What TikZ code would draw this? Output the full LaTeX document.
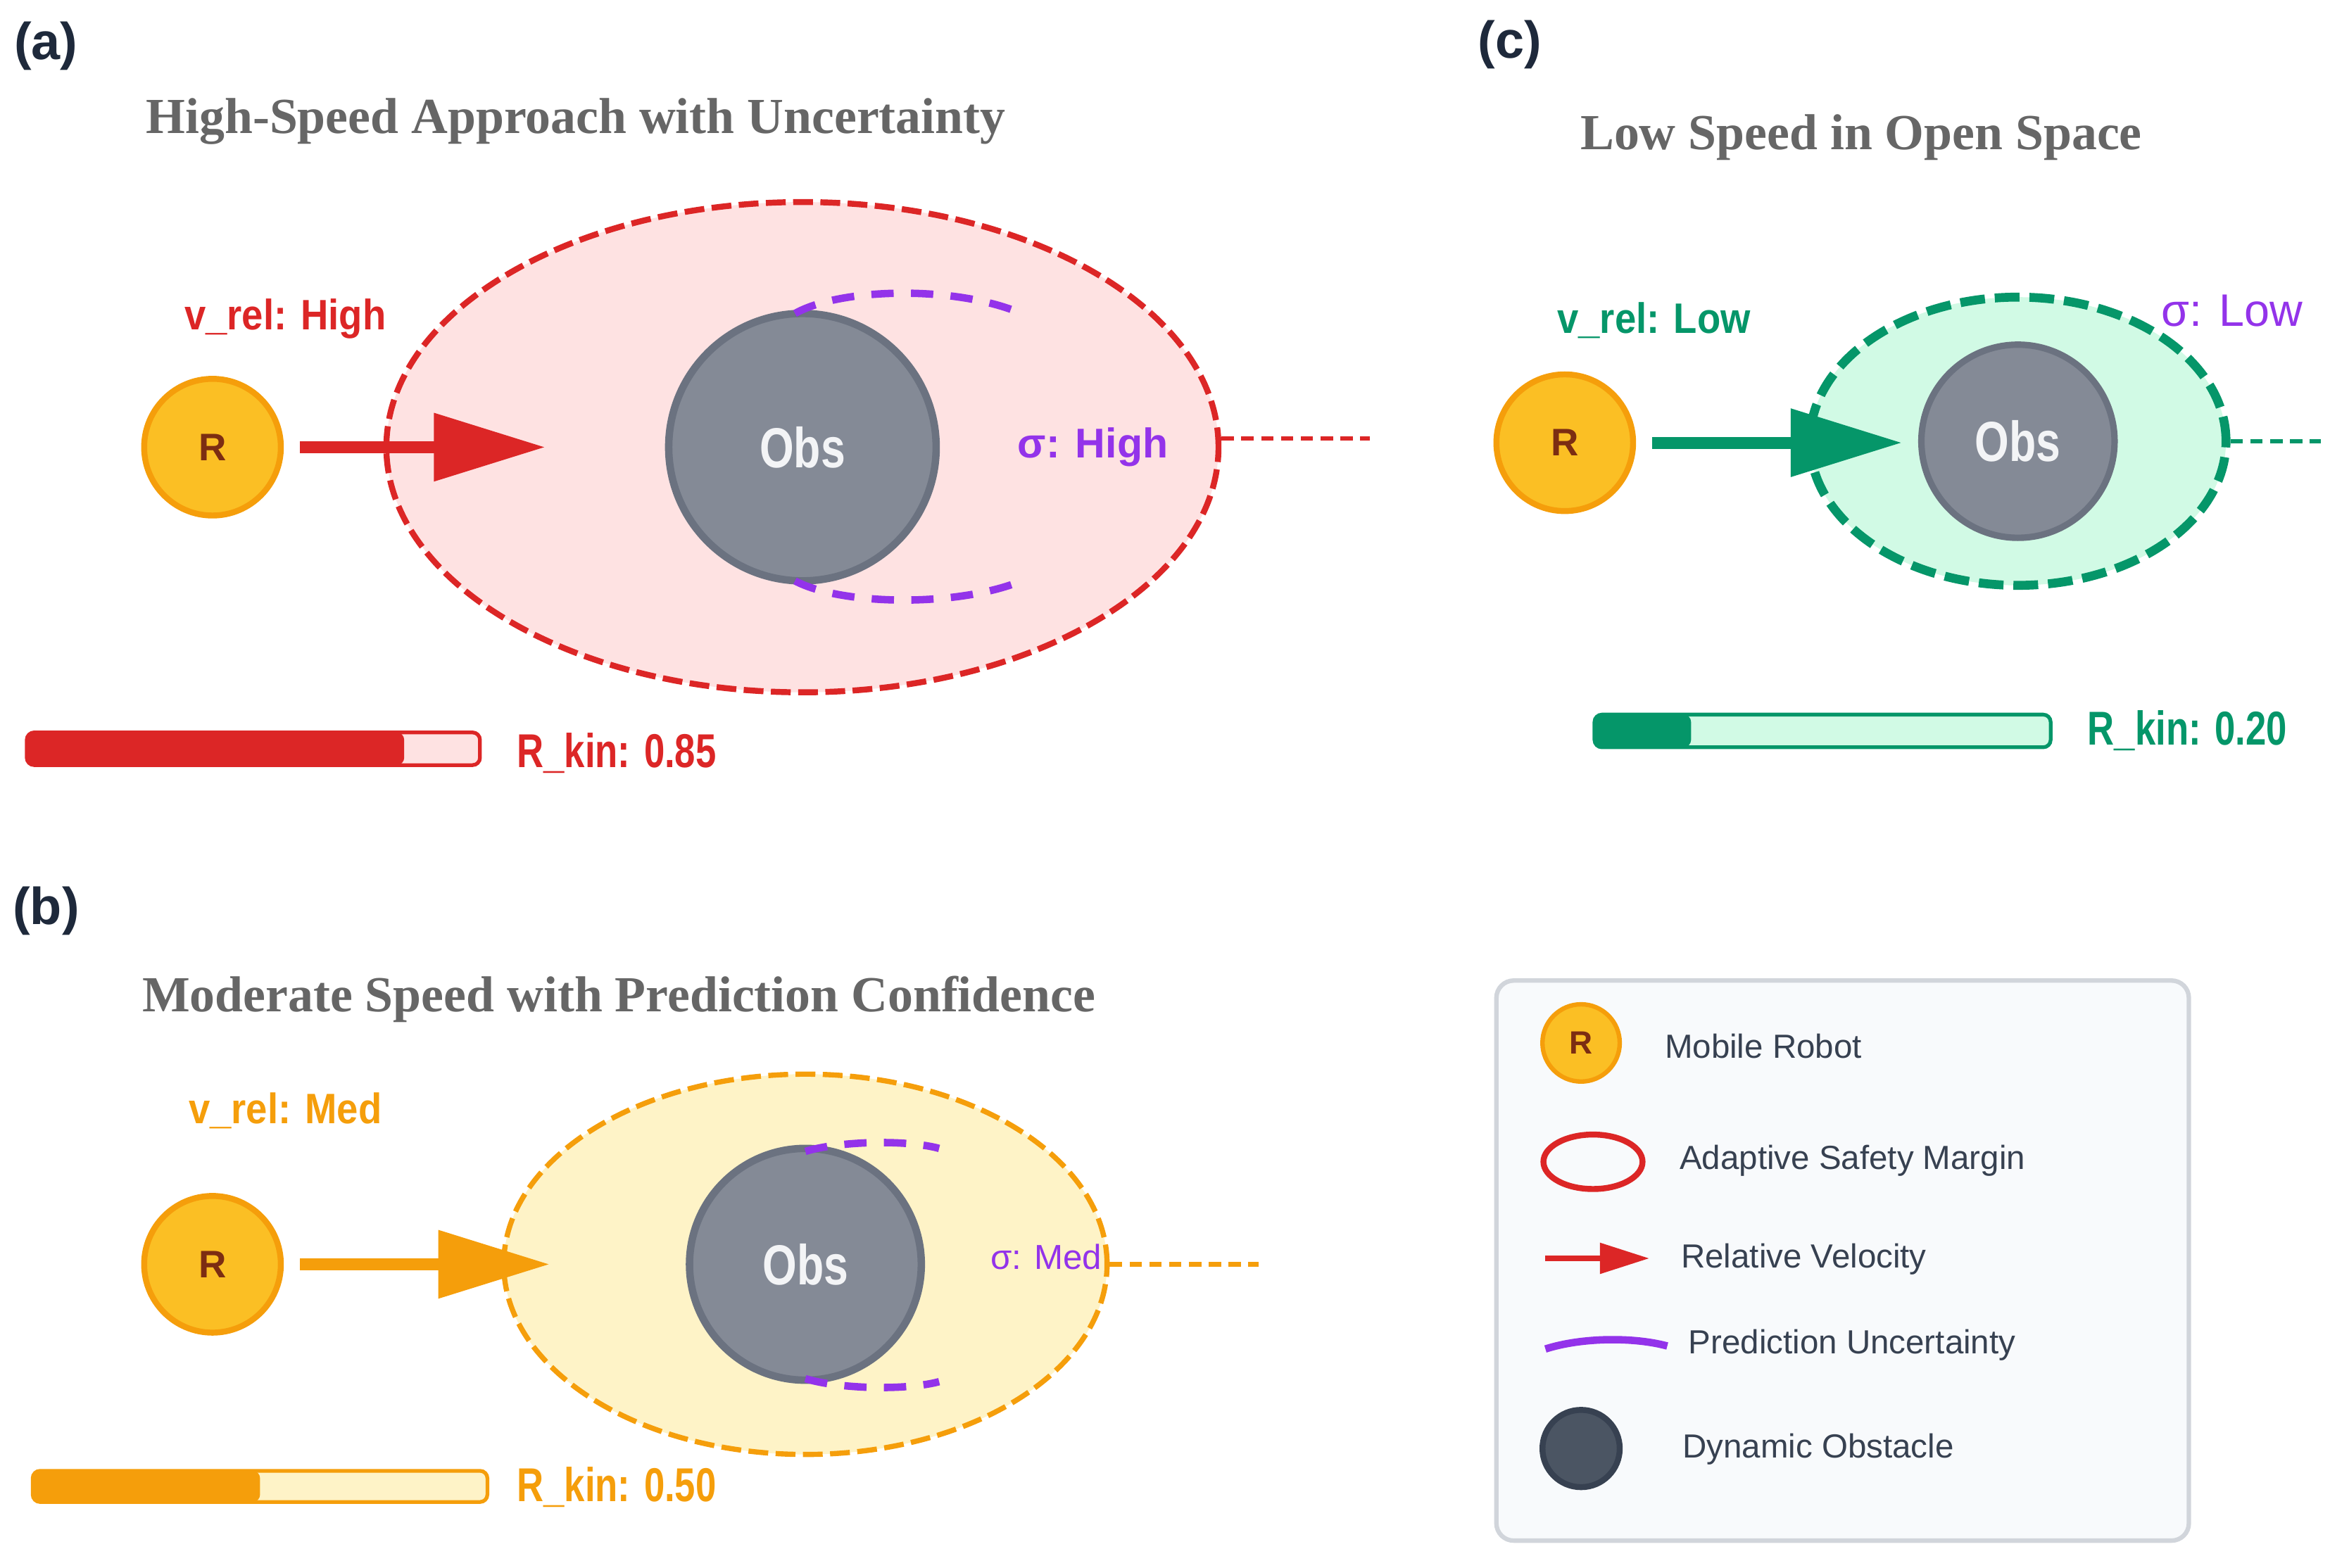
\documentclass[tikz,border=0pt]{standalone}
\usepackage{fontspec}
\setmainfont{Liberation Sans}
\newfontfamily\titlefont{Liberation Serif}
\usetikzlibrary{arrows.meta,shapes.geometric}
\definecolor{cred}{HTML}{DC2626}
\definecolor{cpink}{HTML}{FEE2E2}
\definecolor{corange}{HTML}{F59E0B}
\definecolor{cyellow}{HTML}{FEF3C7}
\definecolor{cgreen}{HTML}{059669}
\definecolor{cmint}{HTML}{D1FAE5}
\definecolor{cpurple}{HTML}{9333EA}
\definecolor{robfill}{HTML}{FBBF24}
\definecolor{robtext}{HTML}{7C2D12}
\definecolor{obsfill}{HTML}{848A96}
\definecolor{obsedge}{HTML}{6B7280}
\definecolor{obstext}{HTML}{F3F4F6}
\definecolor{legfill}{HTML}{F8FAFC}
\definecolor{legedge}{HTML}{D1D5DB}
\definecolor{legtext}{HTML}{374151}
\definecolor{dobsfill}{HTML}{4B5563}
\definecolor{dobsedge}{HTML}{374151}
\definecolor{paneltext}{HTML}{1E293B}
\definecolor{titlegray}{HTML}{666666}
\newcommand{\fsz}[1]{\fontsize{#1}{#1}\selectfont}
\newcommand{\narrow}[1]{\scalebox{0.78}[1]{#1}}
\newcommand{\semi}[1]{\scalebox{0.9}[1]{#1}}
\begin{document}
\begin{tikzpicture}[x=0.6pt,y=-0.6pt,
  panellabel/.style={font=\bfseries\fsz{21}, text=paneltext, inner sep=0pt},
  paneltitle/.style={font=\titlefont\bfseries\fsz{20.4}, text=titlegray, inner sep=0pt, yshift=-2.1pt},
  robot/.style={circle, draw=corange, fill=robfill, line width=2.4pt, minimum size=55.2pt, inner sep=0pt, font=\bfseries\fsz{15.5}, text=robtext},
  obstacle/.style={circle, draw=obsedge, fill=obsfill, line width=3pt, inner sep=0pt, font=\bfseries\fsz{22.8}, text=obstext},
  margin/.style={ellipse, inner sep=0pt, dash pattern=on 8pt off 3pt},
  vel/.style={line width=4.8pt, -{Triangle[length=45pt,width=26.4pt]}, shorten <=6.6pt},
  ext/.style={line width=1.8pt, dash pattern=on 5pt off 3pt},
  unc/.style={draw=cpurple, line width=3pt, dash pattern=on 9pt off 7pt},
  lbl/.style={inner sep=0pt, font=\bfseries\fsz{17.2}, yshift=-1.5pt},
  sig/.style={inner sep=0pt, text=cpurple, yshift=-1.2pt},
  kin/.style={inner sep=0pt, font=\bfseries\fsz{19.2}, yshift=-1.2pt},
  barframe/.style={rounded corners=3pt, line width=1.5pt},
  legtxt/.style={anchor=west, inner sep=0pt, font=\fsz{13.5}, text=legtext, yshift=-1.4pt}
]
\useasboundingbox (0,0) rectangle (1568,1055);

% ---------------- Panel (a) ----------------
\node[panellabel] (la) at (31,31) {(a)};
\node[paneltitle] (ta) at (387.5,78) {High-Speed Approach with Uncertainty};
\node[margin, draw=cred, fill=cpink, line width=2.4pt, minimum width=336pt, minimum height=198pt] (ma) at (540,301) {};
\coordinate (ea) at (922,295);
\draw[ext, cred] (ma.east |- ea) -- (ea);
\node[obstacle, minimum size=108pt] (oa) at (540,301) {\narrow{Obs}};
\draw[unc] (535,211) .. controls (565,194) and (640,192) .. (685,210);
\draw[unc] (535,391) .. controls (565,407) and (640,409) .. (685,392);
\node[robot] (ra) at (143,301) {R};
\coordinate (tipa) at (367,301);
\draw[vel, cred] (ra) -- (tipa);
\node[lbl, text=cred] (va) at (192,212) {\semi{v\_rel: High}};
\node[sig, font=\bfseries\fsz{16.8}] (sa) at (735.5,299) {σ: High};
\draw[barframe, draw=cred, fill=cpink] (18,493) rectangle (323,515);
\fill[cred, rounded corners=3pt] (18,493) rectangle (272,515);
\node[kin, text=cred] (ka) at (415,505) {\narrow{R\_kin: 0.85}};

% ---------------- Panel (b) ----------------
\node[panellabel] (lb) at (31,613) {(b)};
\node[paneltitle] (tb) at (416.5,669) {Moderate Speed with Prediction Confidence};
\node[margin, draw=corange, fill=cyellow, line width=2.1pt, minimum width=243.6pt, minimum height=153.6pt] (mb) at (542,851) {};
\coordinate (eb) at (847,851);
\draw[ext, corange] (mb.east) -- (eb);
\node[obstacle, minimum size=93.6pt] (ob) at (542,851) {\narrow{Obs}};
\draw[unc] (542,775) .. controls (565,768) and (610,767) .. (632,773);
\draw[unc] (542,928) .. controls (565,935) and (610,936) .. (632,930);
\node[robot] (rb) at (143,851) {R};
\coordinate (tipb) at (370,851);
\draw[vel, corange] (rb) -- (tipb);
\node[lbl, text=corange] (vb) at (192,745) {\semi{v\_rel: Med}};
\node[sig, font=\fsz{14}] (sb) at (704,844) {σ: Med};
\draw[barframe, draw=corange, fill=cyellow] (22,990) rectangle (328,1011);
\fill[corange, rounded corners=3pt] (22,990) rectangle (175,1011);
\node[kin, text=corange] (kb) at (415,999) {\narrow{R\_kin: 0.50}};

% ---------------- Panel (c) ----------------
\node[panellabel] (lc) at (1016,30) {(c)};
\node[paneltitle] (tc) at (1252.5,89) {Low Speed in Open Space};
\node[margin, draw=cgreen, fill=cmint, line width=3.6pt, dash pattern=on 10pt off 4pt, minimum width=168pt, minimum height=116.4pt] (mc) at (1358,297) {};
\coordinate (ec) at (1562,297);
\draw[ext, cgreen] (mc.east) -- (ec);
\node[obstacle, minimum size=78pt, line width=2.6pt] (oc) at (1358,297) {\narrow{Obs}};
\node[robot] (rc) at (1053,298) {R};
\coordinate (tipc) at (1280,298);
\draw[vel, cgreen] (rc) -- (tipc);
\node[lbl, text=cgreen] (vc) at (1113,213) {\semi{v\_rel: Low}};
\node[sig, font=\fsz{18.4}] (sc) at (1502,207) {σ: Low};
\draw[barframe, draw=cgreen, fill=cmint] (1073,481) rectangle (1380,503);
\fill[cgreen, rounded corners=3pt] (1073,481) rectangle (1138,503);
\node[kin, text=cgreen] (kc) at (1472,490) {\narrow{R\_kin: 0.20}};

% ---------------- Legend ----------------
\draw[fill=legfill, draw=legedge, line width=1.8pt, rounded corners=7pt] (1007,660) rectangle (1473,1037);
\node[robot, minimum size=31.2pt, line width=1.8pt, font=\bfseries\fsz{13}] (lr) at (1064,702) {R};
\node[legtxt] (lt1) at (1120,702) {Mobile Robot};
\node[ellipse, draw=cred, line width=2.4pt, minimum width=40pt, minimum height=22pt, inner sep=0pt] (le) at (1072,782) {};
\node[legtxt] (lt2) at (1130,779) {Adaptive Safety Margin};
\coordinate (lva) at (1040,847);
\coordinate (lvb) at (1110,847);
\draw[cred, line width=2.4pt, -{Triangle[length=20pt,width=12pt]}] (lva) -- (lvb);
\node[legtxt] (lt3) at (1131,845) {Relative Velocity};
\coordinate (lua) at (1040,908);
\coordinate (lub) at (1122,906);
\draw[cpurple, line width=3pt] (lua) .. controls (1065,900) and (1100,900) .. (lub);
\node[legtxt] (lt4) at (1136,903) {Prediction Uncertainty};
\node[circle, draw=dobsedge, fill=dobsfill, line width=2.4pt, minimum size=31.2pt, inner sep=0pt] (lo) at (1064,975) {};
\node[legtxt] (lt5) at (1132,973) {Dynamic Obstacle};
\end{tikzpicture}
\end{document}
